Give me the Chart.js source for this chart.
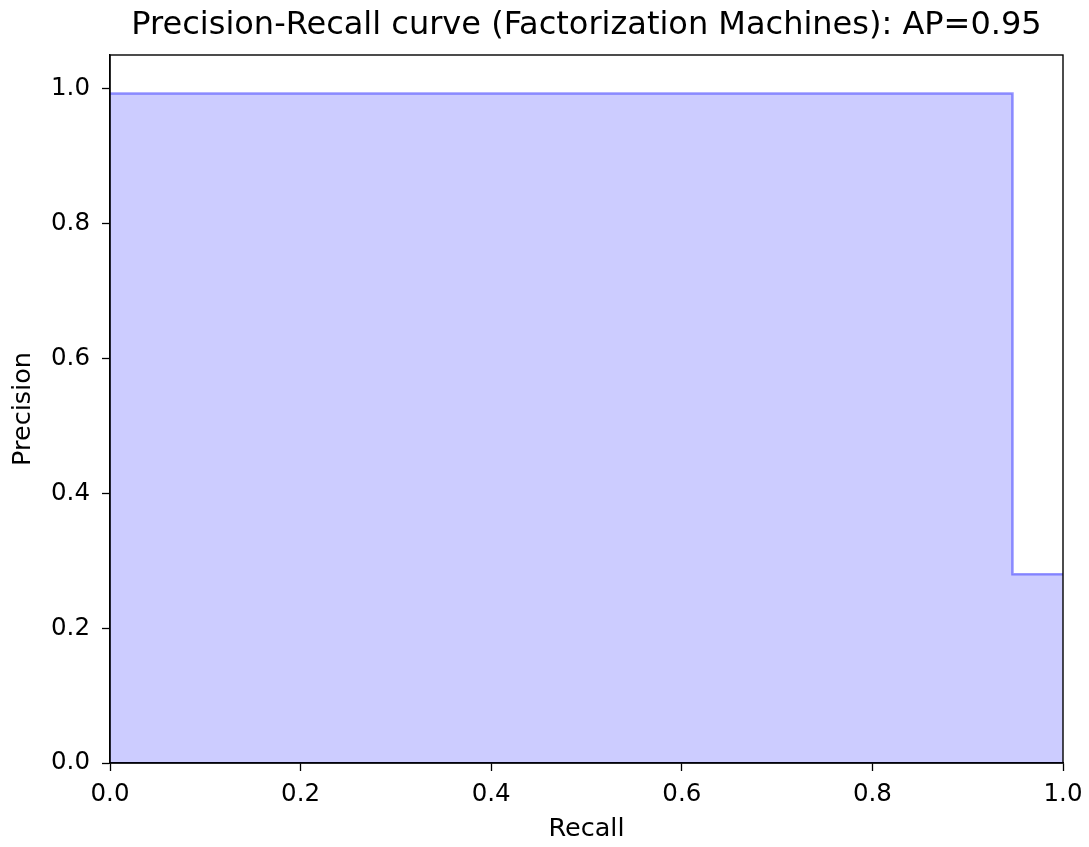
<!DOCTYPE html>
<html>
<head>
<meta charset="utf-8">
<script src="https://cdn.jsdelivr.net/npm/chart.js@4"></script>
<style>
  body { margin: 0; background: #fff; }
</style>
</head>
<body>
<canvas id="prCurve" width="1089" height="847"></canvas>
<script>
//----------------------------------------------
// Precision-Recall curve data
//----------------------------------------------
const recall = [0, 0.947, 1.0];
const precision = [0.993, 0.28, 0.28];
const tickValues = [0, 0.2, 0.4, 0.6, 0.8, 1.0];

const chartTitle = 'Precision-Recall curve (Factorization Machines): AP=0.95';

const points = recall.map((r, i) => ({ x: r, y: precision[i] }));

// box around the plot + center title over plot area
const frame = {
  id: 'frame',
  afterLayout(chart) {
    if (chart.titleBlock) {
      chart.titleBlock.left = chart.chartArea.left;
      chart.titleBlock.right = chart.chartArea.right;
    }
  },
  afterDraw(chart) {
    const a = chart.chartArea;
    const c = chart.ctx;
    c.save();
    c.strokeStyle = '#000';
    c.lineWidth = 1.4;
    c.strokeRect(a.left, a.top, a.right - a.left, a.bottom - a.top);
    c.restore();
  }
};

const tickFont = { family: 'DejaVu Sans', size: 24.5 };
const labelFont = { family: 'DejaVu Sans', size: 25.5 };

const prCtx = document.getElementById('prCurve').getContext('2d');
const prChart = new Chart(prCtx, {
  type: 'line',
  data: {
    datasets: [{
      data: points,
      stepped: 'before',
      borderColor: 'rgba(0,0,255,0.4)',
      borderWidth: 2.5,
      backgroundColor: 'rgba(0,0,255,0.2)',
      fill: 'origin',
      pointRadius: 0,
      pointHoverRadius: 0
    }]
  },
  options: {
    responsive: false,
    animation: false,
    layout: { padding: { left: 0, right: 26, top: 0, bottom: 0 } },
    plugins: {
      legend: { display: false },
      tooltip: { enabled: false },
      title: {
        display: true,
        text: chartTitle,
        color: '#000',
        font: { family: 'DejaVu Sans', size: 32, weight: 'normal' },
        padding: { top: 6, bottom: 10.6 }
      }
    },
    scales: {
      x: {
        type: 'linear',
        min: 0,
        max: 1,
        afterBuildTicks: s => { s.ticks = tickValues.map(v => ({ value: v })); },
        afterFit: s => { s.height = 84; s.paddingLeft = 0; s.paddingRight = 0; },
        grid: { drawOnChartArea: false, color: '#000', tickLength: 8, tickWidth: 1.3 },
        border: { color: '#000', width: 1.4 },
        ticks: { color: '#000', font: tickFont, padding: 9, maxRotation: 0,
                 callback: v => v.toFixed(1) },
        title: { display: true, text: 'Recall', color: '#000', font: labelFont,
                 padding: { top: 0, bottom: 2 } }
      },
      y: {
        min: 0,
        max: 1.05,
        afterBuildTicks: s => { s.ticks = tickValues.map(v => ({ value: v })); },
        afterFit: s => { s.width = 110; },
        grid: { drawOnChartArea: false, color: '#000', tickLength: 8, tickWidth: 1.3 },
        border: { color: '#000', width: 1.4 },
        ticks: { color: '#000', font: tickFont, padding: 12,
                 callback: v => v.toFixed(1) },
        title: { display: true, text: 'Precision', color: '#000', font: labelFont,
                 padding: { top: 8, bottom: 0 } }
      }
    }
  },
  plugins: [frame]
});
</script>
</body>
</html>
